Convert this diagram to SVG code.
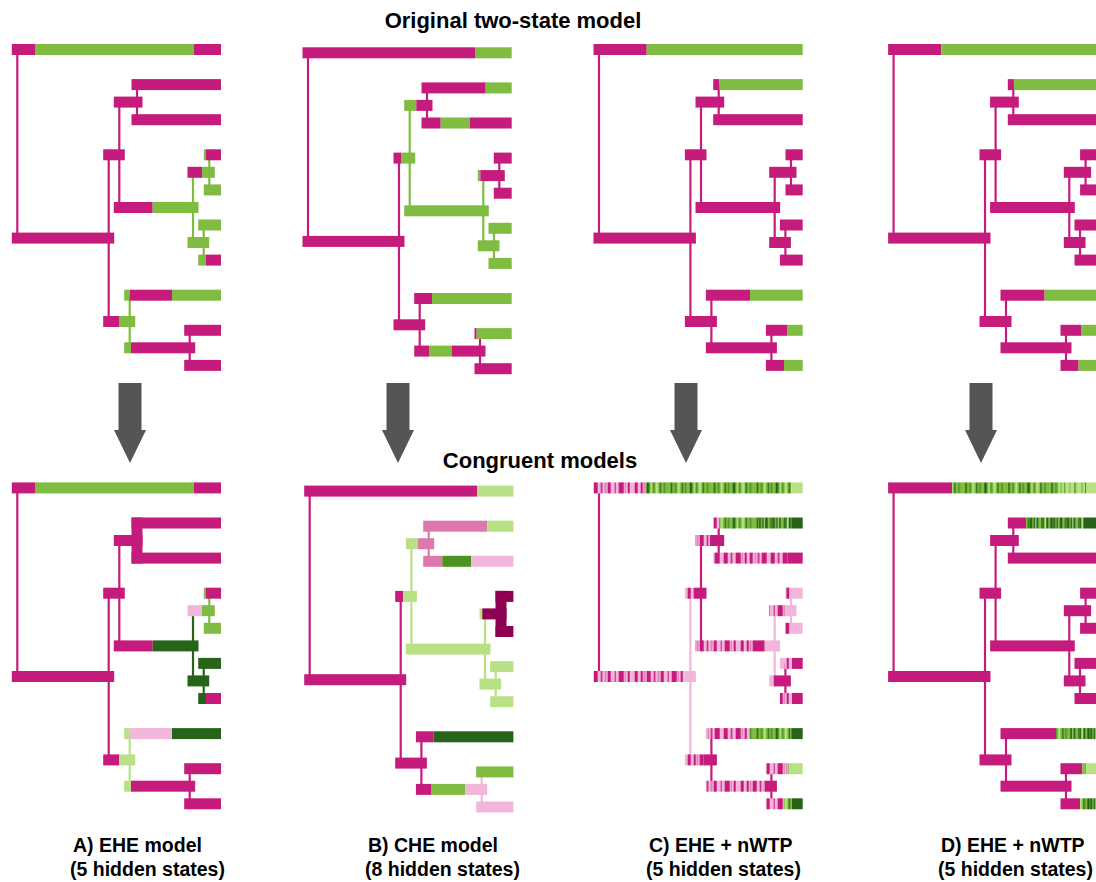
<svg xmlns="http://www.w3.org/2000/svg" width="1096" height="882" viewBox="0 0 1096 882">
  <style>
    .m{fill:#C51B7D}.g{fill:#7FBC41}.lg{fill:#B8E186}.dg{fill:#276419}.mg{fill:#4D9221}
    .lp{fill:#F1B6DA}.mp{fill:#DE77AE}.dp{fill:#8E0152}
    .pk{fill:url(#pinkmix)}.pk2{fill:url(#pinkmix2)}.gm{fill:url(#greenmix)}.dm{fill:url(#darkmix)}.lm{fill:url(#lightmix)}
    .links path{fill:none;stroke-width:2.2}
    .links path.thick{stroke-width:11}
    .cm{stroke:#C51B7D}.cg{stroke:#7FBC41}.clg{stroke:#B8E186}.cdg{stroke:#276419}
    .clp{stroke:#F1B6DA}.cmp{stroke:#DE77AE}.cdp{stroke:#8E0152}
    .arrow{fill:#555555}
    text{font-family:"Liberation Sans",Arial,Helvetica,sans-serif;font-weight:bold;fill:#000}
    .title{font-size:22px;text-anchor:middle}
    .label{font-size:19.5px}
  </style>
  <defs>
    <!-- striped fills for per-site state mixtures -->
    <pattern id="pinkmix" patternUnits="userSpaceOnUse" x="0" y="0" width="53" height="900">
      <rect width="53" height="900" fill="#F1B6DA"/>
      <g fill="#C51B7D">
        <rect x="0" width="3" height="900"/><rect x="6" width="2" height="900"/>
        <rect x="12" width="4" height="900"/><rect x="19" width="1.5" height="900"/>
        <rect x="26" width="3" height="900"/><rect x="33" width="1" height="900"/>
        <rect x="37" width="5" height="900"/><rect x="46" width="2" height="900"/>
      </g>
      <g fill="#DE77AE">
        <rect x="9" width="1.5" height="900"/><rect x="23" width="1.5" height="900"/>
        <rect x="43" width="1" height="900"/>
      </g>
    </pattern>
    <pattern id="pinkmix2" patternUnits="userSpaceOnUse" x="0" y="0" width="47" height="900">
      <rect width="47" height="900" fill="#F1B6DA"/>
      <g fill="#C51B7D">
        <rect x="1" width="4" height="900"/><rect x="8" width="1.5" height="900"/>
        <rect x="13" width="5" height="900"/><rect x="22" width="2" height="900"/>
        <rect x="27" width="3" height="900"/><rect x="35" width="1.5" height="900"/>
        <rect x="39" width="5" height="900"/>
      </g>
      <g fill="#DE77AE">
        <rect x="19" width="1.2" height="900"/><rect x="32" width="1.2" height="900"/>
      </g>
    </pattern>
    <pattern id="greenmix" patternUnits="userSpaceOnUse" x="0" y="0" width="43" height="900">
      <rect width="43" height="900" fill="#7FBC41"/>
      <g fill="#276419">
        <rect x="3" width="1.5" height="900"/><rect x="14" width="1.2" height="900"/>
        <rect x="22" width="2.5" height="900"/><rect x="35" width="1.2" height="900"/>
      </g>
      <g fill="#4D9221">
        <rect x="7" width="1.5" height="900"/><rect x="17" width="1.5" height="900"/>
        <rect x="28" width="1.5" height="900"/><rect x="39" width="1.5" height="900"/>
      </g>
      <g fill="#B8E186">
        <rect x="10" width="2" height="900"/><rect x="26" width="1.5" height="900"/>
        <rect x="31" width="2.5" height="900"/>
      </g>
    </pattern>
    <pattern id="darkmix" patternUnits="userSpaceOnUse" x="0" y="0" width="37" height="900">
      <rect width="37" height="900" fill="#276419"/>
      <g fill="#7FBC41">
        <rect x="1" width="2.5" height="900"/><rect x="8" width="1.5" height="900"/>
        <rect x="14" width="3" height="900"/><rect x="24" width="2" height="900"/>
        <rect x="31" width="1.5" height="900"/>
      </g>
      <g fill="#B8E186">
        <rect x="11" width="1.2" height="900"/><rect x="20" width="2" height="900"/>
        <rect x="34" width="1.2" height="900"/>
      </g>
      <g fill="#4D9221">
        <rect x="4.5" width="1.5" height="900"/><rect x="18" width="1" height="900"/>
        <rect x="28" width="1.5" height="900"/>
      </g>
    </pattern>
    <pattern id="lightmix" patternUnits="userSpaceOnUse" x="0" y="0" width="29" height="900">
      <rect width="29" height="900" fill="#B8E186"/>
      <g fill="#7FBC41">
        <rect x="2" width="1.5" height="900"/><rect x="10" width="2" height="900"/>
        <rect x="19" width="1.2" height="900"/>
      </g>
      <g fill="#4D9221">
        <rect x="14" width="1" height="900"/><rect x="24" width="1.5" height="900"/>
      </g>
      <rect x="6" width="1" height="900" fill="#276419"/>
    </pattern>
  </defs>

  <rect width="1096" height="882" fill="#ffffff"/>

  <!-- headings -->
  <text class="title" x="513" y="28">Original two-state model</text>
  <text class="title" x="540" y="468">Congruent models</text>

  <!-- ================= A, original ================= -->
  <g id="a-orig">
    <g id="a-orig-links" class="links">
      <path class="cm" d="M17.3 49.5V238.1"/>
      <path class="cm" d="M108.7 154.8V321.5"/>
      <path class="cm" d="M119.3 102.1V207.5"/>
      <path class="cm" d="M137 84.6V119.7"/>
      <path class="cg" d="M193 172.3V242.5"/>
      <path class="cg" d="M209.3 154.8V189.9"/>
      <path class="cg" d="M203.7 225V260.1"/>
      <path class="cg" d="M129.7 295.2V347.8"/>
      <path class="cm" d="M189.7 330.3V365.4"/>
    </g>
    <g id="a-orig-t1"><rect class="m" x="11.8" y="44" width="23.2" height="11"/><rect class="g" x="35" y="44" width="159" height="11"/><rect class="m" x="194" y="44" width="27" height="11"/></g>
    <g id="a-orig-t2"><rect class="m" x="131.5" y="79.1" width="89.5" height="11"/></g>
    <g id="a-orig-n3"><rect class="m" x="113.8" y="96.6" width="28.7" height="11"/></g>
    <g id="a-orig-t4"><rect class="m" x="131.5" y="114.2" width="89.5" height="11"/></g>
    <g id="a-orig-n5"><rect class="m" x="103.2" y="149.3" width="21.6" height="11"/></g>
    <g id="a-orig-t6"><rect class="g" x="203.8" y="149.3" width="2.2" height="11"/><rect class="m" x="206" y="149.3" width="15" height="11"/></g>
    <g id="a-orig-n7"><rect class="m" x="187.5" y="166.8" width="14.5" height="11"/><rect class="g" x="202" y="166.8" width="12.8" height="11"/></g>
    <g id="a-orig-t8"><rect class="g" x="203.8" y="184.4" width="17.2" height="11"/></g>
    <g id="a-orig-n9"><rect class="m" x="113.8" y="202" width="38.9" height="11"/><rect class="g" x="152.7" y="202" width="45.8" height="11"/></g>
    <g id="a-orig-t10"><rect class="g" x="198.2" y="219.5" width="22.8" height="11"/></g>
    <g id="a-orig-n11"><rect class="g" x="187.5" y="237" width="21.7" height="11"/></g>
    <g id="a-orig-t12"><rect class="g" x="198.2" y="254.6" width="7.8" height="11"/><rect class="m" x="206" y="254.6" width="15" height="11"/></g>
    <g id="a-orig-n0"><rect class="m" x="11.8" y="232.6" width="102.4" height="11"/></g>
    <g id="a-orig-t13"><rect class="g" x="124.2" y="289.7" width="5.5" height="11"/><rect class="m" x="129.7" y="289.7" width="42.3" height="11"/><rect class="g" x="172" y="289.7" width="49" height="11"/></g>
    <g id="a-orig-n14"><rect class="m" x="103.2" y="316" width="15.8" height="11"/><rect class="g" x="119" y="316" width="16.2" height="11"/></g>
    <g id="a-orig-t15"><rect class="m" x="184.2" y="324.8" width="36.8" height="11"/></g>
    <g id="a-orig-n16"><rect class="g" x="124.2" y="342.3" width="6.8" height="11"/><rect class="m" x="131" y="342.3" width="64.2" height="11"/></g>
    <g id="a-orig-t17"><rect class="m" x="184.2" y="359.9" width="36.8" height="11"/></g>
  </g>

  <!-- ================= B, original ================= -->
  <g id="b-orig" transform="translate(0,3.3)">
    <g id="b-orig-links" class="links">
      <path class="cm" d="M308 49.5V238.1"/>
      <path class="cm" d="M399 154.8V321.5"/>
      <path class="cg" d="M409.7 102.1V207.5"/>
      <path class="cm" d="M427 84.6V119.7"/>
      <path class="cg" d="M483.3 172.3V242.5"/>
      <path class="cm" d="M499.3 154.8V189.9"/>
      <path class="cg" d="M494 225V260.1"/>
      <path class="cm" d="M419.7 295.2V347.8"/>
      <path class="cm" d="M480 330.3V365.4"/>
    </g>
    <g id="b-orig-t1"><rect class="m" x="302.5" y="44" width="172.5" height="11"/><rect class="g" x="475" y="44" width="36.7" height="11"/></g>
    <g id="b-orig-t2"><rect class="m" x="421.5" y="79.1" width="64.2" height="11"/><rect class="g" x="485.7" y="79.1" width="26" height="11"/></g>
    <g id="b-orig-n3"><rect class="g" x="404.2" y="96.6" width="12.1" height="11"/><rect class="m" x="416.3" y="96.6" width="16.2" height="11"/></g>
    <g id="b-orig-t4"><rect class="m" x="421.5" y="114.2" width="19.2" height="11"/><rect class="g" x="440.7" y="114.2" width="29" height="11"/><rect class="m" x="469.7" y="114.2" width="42" height="11"/></g>
    <g id="b-orig-n5"><rect class="m" x="393.5" y="149.3" width="7.5" height="11"/><rect class="g" x="401" y="149.3" width="14.2" height="11"/></g>
    <g id="b-orig-t6"><rect class="m" x="493.8" y="149.3" width="17.9" height="11"/></g>
    <g id="b-orig-n7"><rect class="g" x="477.8" y="166.8" width="2.5" height="11"/><rect class="m" x="480.3" y="166.8" width="24.5" height="11"/></g>
    <g id="b-orig-t8"><rect class="m" x="493.8" y="184.4" width="17.9" height="11"/></g>
    <g id="b-orig-n9"><rect class="g" x="404.2" y="202" width="84.6" height="11"/></g>
    <g id="b-orig-t10"><rect class="g" x="488.5" y="219.5" width="23.2" height="11"/></g>
    <g id="b-orig-n11"><rect class="g" x="477.8" y="237" width="21.7" height="11"/></g>
    <g id="b-orig-t12"><rect class="g" x="488.5" y="254.6" width="23.2" height="11"/></g>
    <g id="b-orig-n0"><rect class="m" x="302.5" y="232.6" width="102" height="11"/></g>
    <g id="b-orig-t13"><rect class="m" x="414.2" y="289.7" width="17.8" height="11"/><rect class="g" x="432" y="289.7" width="79.7" height="11"/></g>
    <g id="b-orig-n14"><rect class="m" x="393.5" y="316" width="31.7" height="11"/></g>
    <g id="b-orig-t15"><rect class="m" x="474.5" y="324.8" width="2.2" height="11"/><rect class="g" x="476.7" y="324.8" width="35" height="11"/></g>
    <g id="b-orig-n16"><rect class="m" x="414.2" y="342.3" width="14.8" height="11"/><rect class="g" x="429" y="342.3" width="23" height="11"/><rect class="m" x="452" y="342.3" width="33.5" height="11"/></g>
    <g id="b-orig-t17"><rect class="m" x="474.5" y="359.9" width="37.2" height="11"/></g>
  </g>

  <!-- ================= C, original ================= -->
  <g id="c-orig" transform="translate(581.7,0)">
    <g id="c-orig-links" class="links">
      <path class="cm" d="M17.3 49.5V238.1"/>
      <path class="cm" d="M108.7 154.8V321.5"/>
      <path class="cm" d="M119.3 102.1V207.5"/>
      <path class="cm" d="M137 84.6V119.7"/>
      <path class="cm" d="M193 172.3V242.5"/>
      <path class="cm" d="M209.3 154.8V189.9"/>
      <path class="cm" d="M203.7 225V260.1"/>
      <path class="cm" d="M129.7 295.2V347.8"/>
      <path class="cm" d="M189.7 330.3V365.4"/>
    </g>
    <g id="c-orig-t1"><rect class="m" x="11.8" y="44" width="53.2" height="11"/><rect class="g" x="65" y="44" width="156" height="11"/></g>
    <g id="c-orig-t2"><rect class="m" x="131.5" y="79.1" width="6.1" height="11"/><rect class="g" x="137.6" y="79.1" width="83.4" height="11"/></g>
    <g id="c-orig-n3"><rect class="m" x="113.8" y="96.6" width="28.7" height="11"/></g>
    <g id="c-orig-t4"><rect class="m" x="131.5" y="114.2" width="89.5" height="11"/></g>
    <g id="c-orig-n5"><rect class="m" x="103.2" y="149.3" width="21.6" height="11"/></g>
    <g id="c-orig-t6"><rect class="m" x="203.8" y="149.3" width="17.2" height="11"/></g>
    <g id="c-orig-n7"><rect class="m" x="187.5" y="166.8" width="27.3" height="11"/></g>
    <g id="c-orig-t8"><rect class="m" x="203.8" y="184.4" width="17.2" height="11"/></g>
    <g id="c-orig-n9"><rect class="m" x="113.8" y="202" width="84.7" height="11"/></g>
    <g id="c-orig-t10"><rect class="m" x="198.2" y="219.5" width="22.8" height="11"/></g>
    <g id="c-orig-n11"><rect class="m" x="187.5" y="237" width="21.7" height="11"/></g>
    <g id="c-orig-t12"><rect class="m" x="198.2" y="254.6" width="22.8" height="11"/></g>
    <g id="c-orig-n0"><rect class="m" x="11.8" y="232.6" width="102.4" height="11"/></g>
    <g id="c-orig-t13"><rect class="m" x="124.2" y="289.7" width="44.1" height="11"/><rect class="g" x="168.3" y="289.7" width="52.7" height="11"/></g>
    <g id="c-orig-n14"><rect class="m" x="103.2" y="316" width="32" height="11"/></g>
    <g id="c-orig-t15"><rect class="m" x="184.2" y="324.8" width="21.1" height="11"/><rect class="g" x="205.3" y="324.8" width="15.7" height="11"/></g>
    <g id="c-orig-n16"><rect class="m" x="124.2" y="342.3" width="71" height="11"/></g>
    <g id="c-orig-t17"><rect class="m" x="184.2" y="359.9" width="18.1" height="11"/><rect class="g" x="202.3" y="359.9" width="18.7" height="11"/></g>
  </g>

  <!-- ================= D, original ================= -->
  <g id="d-orig" transform="translate(876.3,0)">
    <g id="d-orig-links" class="links">
      <path class="cm" d="M17.3 49.5V238.1"/>
      <path class="cm" d="M108.7 154.8V321.5"/>
      <path class="cm" d="M119.3 102.1V207.5"/>
      <path class="cm" d="M137 84.6V119.7"/>
      <path class="cm" d="M193 172.3V242.5"/>
      <path class="cm" d="M209.3 154.8V189.9"/>
      <path class="cm" d="M203.7 225V260.1"/>
      <path class="cm" d="M129.7 295.2V347.8"/>
      <path class="cm" d="M189.7 330.3V365.4"/>
    </g>
    <g id="d-orig-t1"><rect class="m" x="11.8" y="44" width="53.2" height="11"/><rect class="g" x="65" y="44" width="156" height="11"/></g>
    <g id="d-orig-t2"><rect class="m" x="131.5" y="79.1" width="6.1" height="11"/><rect class="g" x="137.6" y="79.1" width="83.4" height="11"/></g>
    <g id="d-orig-n3"><rect class="m" x="113.8" y="96.6" width="28.7" height="11"/></g>
    <g id="d-orig-t4"><rect class="m" x="131.5" y="114.2" width="89.5" height="11"/></g>
    <g id="d-orig-n5"><rect class="m" x="103.2" y="149.3" width="21.6" height="11"/></g>
    <g id="d-orig-t6"><rect class="m" x="203.8" y="149.3" width="17.2" height="11"/></g>
    <g id="d-orig-n7"><rect class="m" x="187.5" y="166.8" width="27.3" height="11"/></g>
    <g id="d-orig-t8"><rect class="m" x="203.8" y="184.4" width="17.2" height="11"/></g>
    <g id="d-orig-n9"><rect class="m" x="113.8" y="202" width="84.7" height="11"/></g>
    <g id="d-orig-t10"><rect class="m" x="198.2" y="219.5" width="22.8" height="11"/></g>
    <g id="d-orig-n11"><rect class="m" x="187.5" y="237" width="21.7" height="11"/></g>
    <g id="d-orig-t12"><rect class="m" x="198.2" y="254.6" width="22.8" height="11"/></g>
    <g id="d-orig-n0"><rect class="m" x="11.8" y="232.6" width="102.4" height="11"/></g>
    <g id="d-orig-t13"><rect class="m" x="124.2" y="289.7" width="44.1" height="11"/><rect class="g" x="168.3" y="289.7" width="52.7" height="11"/></g>
    <g id="d-orig-n14"><rect class="m" x="103.2" y="316" width="32" height="11"/></g>
    <g id="d-orig-t15"><rect class="m" x="184.2" y="324.8" width="21.1" height="11"/><rect class="g" x="205.3" y="324.8" width="15.7" height="11"/></g>
    <g id="d-orig-n16"><rect class="m" x="124.2" y="342.3" width="71" height="11"/></g>
    <g id="d-orig-t17"><rect class="m" x="184.2" y="359.9" width="18.1" height="11"/><rect class="g" x="202.3" y="359.9" width="18.7" height="11"/></g>
  </g>

  <!-- ================= arrows ================= -->
  <g id="arrows" class="arrow">
    <polygon id="arrow-a" points="118.5,383 141.5,383 141.5,430 146,430 130,463 114,430 118.5,430"/>
    <polygon id="arrow-b" points="386.5,383 409.5,383 409.5,430 414,430 398,463 382,430 386.5,430"/>
    <polygon id="arrow-c" points="674.5,383 697.5,383 697.5,430 702,430 686,463 670,430 674.5,430"/>
    <polygon id="arrow-d" points="969.5,383 992.5,383 992.5,430 997,430 981,463 965,430 969.5,430"/>
  </g>

  <!-- ================= A, congruent (EHE) ================= -->
  <g id="a-cong" transform="translate(0,438.4)">
    <g id="a-cong-links" class="links">
      <path class="cm" d="M17.3 49.5V238.1"/>
      <path class="cm" d="M108.7 154.8V321.5"/>
      <path class="cm" d="M119.3 102.1V207.5"/>
      <path class="cm thick" d="M137 79.1V125.2"/>
      <path class="cdg" d="M193 172.3V242.5"/>
      <path class="cg" d="M209.3 154.8V189.9"/>
      <path class="cdg" d="M203.7 225V260.1"/>
      <path class="clg" d="M129.7 295.2V347.8"/>
      <path class="cm" d="M189.7 330.3V365.4"/>
    </g>
    <g id="a-cong-t1"><rect class="m" x="11.8" y="44" width="23.2" height="11"/><rect class="g" x="35" y="44" width="159" height="11"/><rect class="m" x="194" y="44" width="27" height="11"/></g>
    <g id="a-cong-t2"><rect class="m" x="131.5" y="79.1" width="89.5" height="11"/></g>
    <g id="a-cong-n3"><rect class="m" x="113.8" y="96.6" width="28.7" height="11"/></g>
    <g id="a-cong-t4"><rect class="m" x="131.5" y="114.2" width="89.5" height="11"/></g>
    <g id="a-cong-n5"><rect class="m" x="103.2" y="149.3" width="21.6" height="11"/></g>
    <g id="a-cong-t6"><rect class="g" x="203.8" y="149.3" width="2.2" height="11"/><rect class="m" x="206" y="149.3" width="15" height="11"/></g>
    <g id="a-cong-n7"><rect class="lp" x="187.5" y="166.8" width="14.5" height="11"/><rect class="g" x="202" y="166.8" width="12.8" height="11"/></g>
    <g id="a-cong-t8"><rect class="g" x="203.8" y="184.4" width="17.2" height="11"/></g>
    <g id="a-cong-n9"><rect class="m" x="113.8" y="202" width="38.9" height="11"/><rect class="dg" x="152.7" y="202" width="45.8" height="11"/></g>
    <g id="a-cong-t10"><rect class="dg" x="198.2" y="219.5" width="22.8" height="11"/></g>
    <g id="a-cong-n11"><rect class="dg" x="187.5" y="237" width="21.7" height="11"/></g>
    <g id="a-cong-t12"><rect class="dg" x="198.2" y="254.6" width="7.8" height="11"/><rect class="m" x="206" y="254.6" width="15" height="11"/></g>
    <g id="a-cong-n0"><rect class="m" x="11.8" y="232.6" width="102.4" height="11"/></g>
    <g id="a-cong-t13"><rect class="lg" x="124.2" y="289.7" width="5.5" height="11"/><rect class="lp" x="129.7" y="289.7" width="42.3" height="11"/><rect class="dg" x="172" y="289.7" width="49" height="11"/></g>
    <g id="a-cong-n14"><rect class="m" x="103.2" y="316" width="15.8" height="11"/><rect class="lg" x="119" y="316" width="16.2" height="11"/></g>
    <g id="a-cong-t15"><rect class="m" x="184.2" y="324.8" width="36.8" height="11"/></g>
    <g id="a-cong-n16"><rect class="lg" x="124.2" y="342.3" width="6.8" height="11"/><rect class="m" x="131" y="342.3" width="64.2" height="11"/></g>
    <g id="a-cong-t17"><rect class="m" x="184.2" y="359.9" width="36.8" height="11"/></g>
  </g>

  <!-- ================= B, congruent (CHE) ================= -->
  <g id="b-cong" transform="translate(1.7,441.6)">
    <g id="b-cong-links" class="links">
      <path class="cm" d="M308 49.5V238.1"/>
      <path class="cm" d="M399 154.8V321.5"/>
      <path class="clg" d="M409.7 102.1V207.5"/>
      <path class="cmp" d="M427 84.6V119.7"/>
      <path class="clg" d="M483.3 172.3V242.5"/>
      <path class="cdp thick" d="M499.3 149.3V195.4"/>
      <path class="clg" d="M494 225V260.1"/>
      <path class="cm" d="M419.7 295.2V347.8"/>
      <path class="clp" d="M480 330.3V365.4"/>
    </g>
    <g id="b-cong-t1"><rect class="m" x="302.5" y="44" width="172.8" height="11"/><rect class="lg" x="475.3" y="44" width="36.4" height="11"/></g>
    <g id="b-cong-t2"><rect class="mp" x="421.5" y="79.1" width="64.1" height="11"/><rect class="lg" x="485.6" y="79.1" width="26.1" height="11"/></g>
    <g id="b-cong-n3"><rect class="lg" x="404.2" y="96.6" width="11.8" height="11"/><rect class="mp" x="416" y="96.6" width="16.5" height="11"/></g>
    <g id="b-cong-t4"><rect class="mp" x="421.5" y="114.2" width="19.1" height="11"/><rect class="mg" x="440.6" y="114.2" width="29" height="11"/><rect class="lp" x="469.6" y="114.2" width="42.1" height="11"/></g>
    <g id="b-cong-n5"><rect class="m" x="393.5" y="149.3" width="7.8" height="11"/><rect class="lg" x="401.3" y="149.3" width="13.9" height="11"/></g>
    <g id="b-cong-t6"><rect class="dp" x="493.8" y="149.3" width="17.9" height="11"/></g>
    <g id="b-cong-n7"><rect class="lg" x="477.8" y="166.8" width="2.8" height="11"/><rect class="dp" x="480.6" y="166.8" width="24.2" height="11"/></g>
    <g id="b-cong-t8"><rect class="dp" x="493.8" y="184.4" width="17.9" height="11"/></g>
    <g id="b-cong-n9"><rect class="lg" x="404.2" y="202" width="84.6" height="11"/></g>
    <g id="b-cong-t10"><rect class="lg" x="488.5" y="219.5" width="23.2" height="11"/></g>
    <g id="b-cong-n11"><rect class="lg" x="477.8" y="237" width="21.7" height="11"/></g>
    <g id="b-cong-t12"><rect class="lg" x="488.5" y="254.6" width="23.2" height="11"/></g>
    <g id="b-cong-n0"><rect class="m" x="302.5" y="232.6" width="102" height="11"/></g>
    <g id="b-cong-t13"><rect class="m" x="414.2" y="289.7" width="17.8" height="11"/><rect class="dg" x="432" y="289.7" width="79.7" height="11"/></g>
    <g id="b-cong-n14"><rect class="m" x="393.5" y="316" width="31.7" height="11"/></g>
    <g id="b-cong-t15"><rect class="g" x="474.5" y="324.8" width="37.2" height="11"/></g>
    <g id="b-cong-n16"><rect class="m" x="414.2" y="342.3" width="15.1" height="11"/><rect class="g" x="429.3" y="342.3" width="34.3" height="11"/><rect class="lp" x="463.6" y="342.3" width="21.9" height="11"/></g>
    <g id="b-cong-t17"><rect class="lp" x="474.5" y="359.9" width="37.2" height="11"/></g>
  </g>

  <!-- ================= C, congruent (EHE + nWTP) ================= -->
  <g id="c-cong" transform="translate(581.7,438.4)">
    <g id="c-cong-links" class="links">
      <path class="cm" d="M17.3 49.5V238.1"/>
      <path class="clp" d="M108.7 154.8V321.5"/>
      <path class="cm" d="M119.3 102.1V207.5"/>
      <path class="cm" d="M137 84.6V119.7"/>
      <path class="clp" d="M193 172.3V242.5"/>
      <path class="clp" d="M209.3 154.8V189.9"/>
      <path class="cm" d="M203.7 225V260.1"/>
      <path class="cm" d="M129.7 295.2V347.8"/>
      <path class="cm" d="M189.7 330.3V365.4"/>
    </g>
    <g id="c-cong-t1"><rect class="pk" x="11.8" y="44" width="51.8" height="11"/><rect class="gm" x="63.6" y="44" width="146" height="11"/><rect class="lg" x="209.6" y="44" width="11.4" height="11"/></g>
    <g id="c-cong-t2"><rect class="pk" x="131.5" y="79.1" width="5.8" height="11"/><rect class="gm" x="137.3" y="79.1" width="40" height="11"/><rect class="dm" x="177.3" y="79.1" width="32.3" height="11"/><rect class="dg" x="209.6" y="79.1" width="11.4" height="11"/></g>
    <g id="c-cong-n3"><rect class="pk" x="113.8" y="96.6" width="14.5" height="11"/><rect class="m" x="128.3" y="96.6" width="14.2" height="11"/></g>
    <g id="c-cong-t4"><rect class="pk2" x="131.5" y="114.2" width="74.8" height="11"/><rect class="m" x="206.3" y="114.2" width="14.7" height="11"/></g>
    <g id="c-cong-n5"><rect class="pk" x="103.2" y="149.3" width="10.1" height="11"/><rect class="m" x="113.3" y="149.3" width="11.5" height="11"/></g>
    <g id="c-cong-t6"><rect class="lp" x="203.8" y="149.3" width="17.2" height="11"/><rect class="m" x="204.8" y="149.3" width="2.6" height="11"/></g>
    <g id="c-cong-n7"><rect class="pk" x="187.5" y="166.8" width="15.8" height="11"/><rect class="lp" x="203.3" y="166.8" width="11.5" height="11"/></g>
    <g id="c-cong-t8"><rect class="m" x="203.8" y="184.4" width="4" height="11"/><rect class="lp" x="207.8" y="184.4" width="13.2" height="11"/></g>
    <g id="c-cong-n9"><rect class="pk" x="113.8" y="202" width="57.5" height="11"/><rect class="m" x="171.3" y="202" width="11.7" height="11"/><rect class="lp" x="183" y="202" width="15.5" height="11"/></g>
    <g id="c-cong-t10"><rect class="lp" x="198.2" y="219.5" width="4.8" height="11"/><rect class="pk" x="203" y="219.5" width="7.3" height="11"/><rect class="m" x="210.3" y="219.5" width="10.7" height="11"/></g>
    <g id="c-cong-n11"><rect class="lp" x="187.5" y="237" width="4.5" height="11"/><rect class="m" x="192" y="237" width="17.2" height="11"/></g>
    <g id="c-cong-t12"><rect class="pk" x="198.2" y="254.6" width="12.1" height="11"/><rect class="m" x="210.3" y="254.6" width="10.7" height="11"/></g>
    <g id="c-cong-n0"><rect class="pk" x="11.8" y="232.6" width="91.2" height="11"/><rect class="lp" x="103" y="232.6" width="11.2" height="11"/></g>
    <g id="c-cong-t13"><rect class="pk2" x="124.2" y="289.7" width="43.8" height="11"/><rect class="gm" x="168" y="289.7" width="41.6" height="11"/><rect class="dg" x="209.6" y="289.7" width="11.4" height="11"/></g>
    <g id="c-cong-n14"><rect class="pk" x="103.2" y="316" width="19.1" height="11"/><rect class="m" x="122.3" y="316" width="12.9" height="11"/></g>
    <g id="c-cong-t15"><rect class="pk" x="184.2" y="324.8" width="21.1" height="11"/><rect class="lg" x="205.3" y="324.8" width="15.7" height="11"/><rect class="g" x="206" y="324.8" width="1" height="11"/></g>
    <g id="c-cong-n16"><rect class="pk" x="124.2" y="342.3" width="58.8" height="11"/><rect class="m" x="183" y="342.3" width="12.2" height="11"/></g>
    <g id="c-cong-t17"><rect class="pk" x="184.2" y="359.9" width="18.1" height="11"/><rect class="gm" x="202.3" y="359.9" width="8" height="11"/><rect class="dg" x="210.3" y="359.9" width="10.7" height="11"/></g>
  </g>

  <!-- ================= D, congruent (EHE + nWTP) ================= -->
  <g id="d-cong" transform="translate(876.3,438.4)">
    <g id="d-cong-links" class="links">
      <path class="cm" d="M17.3 49.5V238.1"/>
      <path class="cm" d="M108.7 154.8V321.5"/>
      <path class="cm" d="M119.3 102.1V207.5"/>
      <path class="cm" d="M137 84.6V119.7"/>
      <path class="cm" d="M193 172.3V242.5"/>
      <path class="cm" d="M209.3 154.8V189.9"/>
      <path class="cm" d="M203.7 225V260.1"/>
      <path class="cm" d="M129.7 295.2V347.8"/>
      <path class="cm" d="M189.7 330.3V365.4"/>
    </g>
    <g id="d-cong-t1"><rect class="m" x="11.8" y="44" width="63.9" height="11"/><rect class="gm" x="75.7" y="44" width="109.7" height="11"/><rect class="lm" x="185.4" y="44" width="25" height="11"/><rect class="lg" x="210.4" y="44" width="10.6" height="11"/></g>
    <g id="d-cong-t2"><rect class="m" x="131.5" y="79.1" width="18.2" height="11"/><rect class="dm" x="149.7" y="79.1" width="59" height="11"/><rect class="dg" x="208.7" y="79.1" width="12.3" height="11"/></g>
    <g id="d-cong-n3"><rect class="m" x="113.8" y="96.6" width="28.7" height="11"/></g>
    <g id="d-cong-t4"><rect class="m" x="131.5" y="114.2" width="89.5" height="11"/></g>
    <g id="d-cong-n5"><rect class="m" x="103.2" y="149.3" width="21.6" height="11"/></g>
    <g id="d-cong-t6"><rect class="m" x="203.8" y="149.3" width="17.2" height="11"/></g>
    <g id="d-cong-n7"><rect class="m" x="187.5" y="166.8" width="27.3" height="11"/></g>
    <g id="d-cong-t8"><rect class="m" x="203.8" y="184.4" width="17.2" height="11"/></g>
    <g id="d-cong-n9"><rect class="m" x="113.8" y="202" width="84.7" height="11"/></g>
    <g id="d-cong-t10"><rect class="m" x="198.2" y="219.5" width="22.8" height="11"/></g>
    <g id="d-cong-n11"><rect class="m" x="187.5" y="237" width="21.7" height="11"/></g>
    <g id="d-cong-t12"><rect class="m" x="198.2" y="254.6" width="22.8" height="11"/></g>
    <g id="d-cong-n0"><rect class="m" x="11.8" y="232.6" width="102.4" height="11"/></g>
    <g id="d-cong-t13"><rect class="m" x="124.2" y="289.7" width="55.5" height="11"/><rect class="gm" x="179.7" y="289.7" width="15" height="11"/><rect class="dm" x="194.7" y="289.7" width="26.3" height="11"/></g>
    <g id="d-cong-n14"><rect class="m" x="103.2" y="316" width="32" height="11"/></g>
    <g id="d-cong-t15"><rect class="m" x="184.2" y="324.8" width="21.8" height="11"/><rect class="g" x="206" y="324.8" width="3.7" height="11"/><rect class="lg" x="209.7" y="324.8" width="11.3" height="11"/></g>
    <g id="d-cong-n16"><rect class="m" x="124.2" y="342.3" width="71" height="11"/></g>
    <g id="d-cong-t17"><rect class="m" x="184.2" y="359.9" width="19.5" height="11"/><rect class="gm" x="203.7" y="359.9" width="5" height="11"/><rect class="dm" x="208.7" y="359.9" width="12.3" height="11"/></g>
  </g>

  <!-- ================= panel captions ================= -->
  <g id="captions">
    <text class="label" x="73" y="852">A) EHE model</text>
    <text class="label" x="70" y="876">(5 hidden states)</text>
    <text class="label" x="368" y="852">B) CHE model</text>
    <text class="label" x="365" y="876">(8 hidden states)</text>
    <text class="label" x="649" y="852">C) EHE + nWTP</text>
    <text class="label" x="646" y="876">(5 hidden states)</text>
    <text class="label" x="941" y="852">D) EHE + nWTP</text>
    <text class="label" x="938" y="876">(5 hidden states)</text>
  </g>
</svg>
